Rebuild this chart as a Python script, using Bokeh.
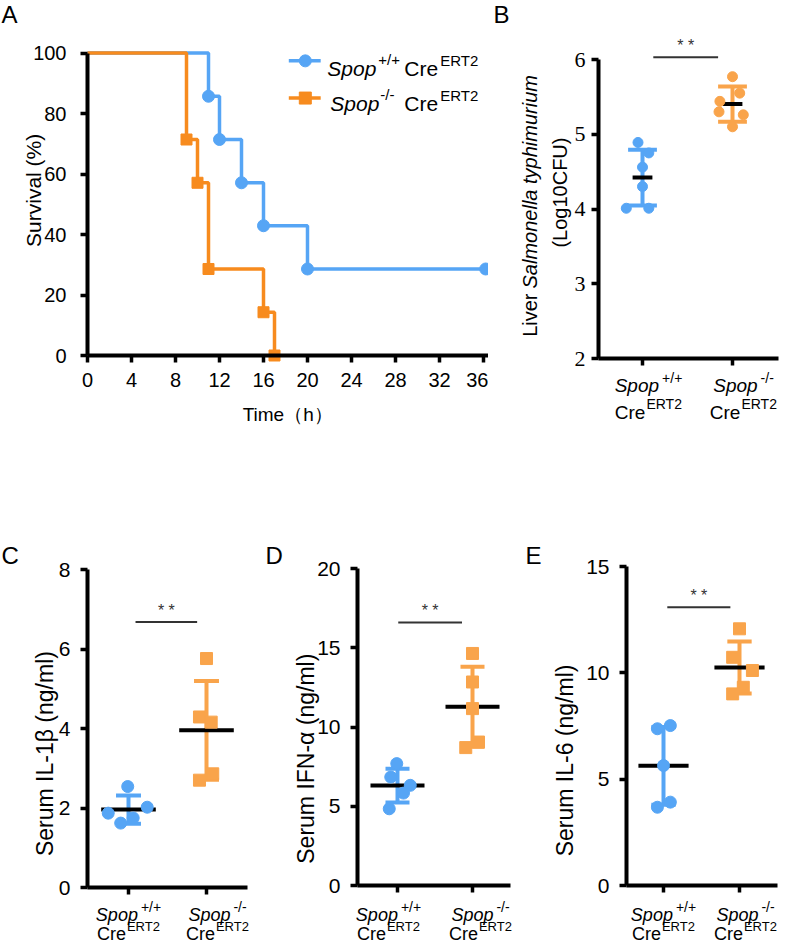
import math
import numpy as np
from bokeh.plotting import figure
from bokeh.models import Label, Range1d, FixedTicker
from bokeh.layouts import column, row
from bokeh.embed import file_html
from bokeh.resources import INLINE

# ---------------- data ----------------
# Panel A: Kaplan-Meier survival (time in h, survival in %)
time_ticks = [0, 4, 8, 12, 16, 20, 24, 28, 32, 36]
surv_ticks = [0, 20, 40, 60, 80, 100]
wt_time = [0, 11, 12, 14, 16, 20, 36.2]
wt_surv = [100, 85.7, 71.4, 57.1, 42.9, 28.6, 28.6]
ko_time = [0, 9, 10, 11, 16, 17]
ko_surv = [100, 71.4, 57.1, 28.6, 14.3, 0]

groups = [1, 2]
# Panel B: liver Salmonella typhimurium (Log10CFU)
liver_wt = [4.89, 4.75, 4.56, 4.30, 4.01, 4.01]
liver_ko = [5.77, 5.55, 5.44, 5.30, 5.26, 5.10]
liver_ticks = [2, 3, 4, 5, 6]
# Panel C: serum IL-1beta (ng/ml)
il1b_wt = [2.54, 2.02, 1.87, 1.75, 1.62]
il1b_ko = [5.76, 4.29, 4.16, 2.86, 2.70]
il1b_ticks = [0, 2, 4, 6, 8]
# Panel D: serum IFN-alpha (ng/ml)
ifna_wt = [7.69, 6.84, 6.32, 5.83, 4.84]
ifna_ko = [14.64, 12.84, 11.16, 9.05, 8.70]
ifna_ticks = [0, 5, 10, 15, 20]
# Panel E: serum IL-6 (ng/ml)
il6_wt = [7.52, 7.37, 5.64, 3.92, 3.68]
il6_ko = [12.07, 10.73, 10.11, 9.32, 9.01]
il6_ticks = [0, 5, 10, 15]

# horizontal scatter of the dots (category units)
jit_liver_wt = [-0.05, 0.07, 0.0, 0.0, -0.18, 0.07]
jit_liver_ko = [0.0, 0.08, -0.14, -0.15, 0.12, 0.0]
jit_il1b_wt = [-0.01, 0.24, -0.26, 0.06, -0.10]
jit_il1b_ko = [0.0, -0.09, 0.06, 0.08, -0.09]
jit_ifna_wt = [-0.01, -0.09, 0.17, 0.08, -0.11]
jit_ifna_ko = [0.0, 0.0, 0.0, 0.08, -0.09]
jit_il6_wt = [0.09, -0.08, 0.0, 0.09, -0.08]
jit_il6_ko = [0.0, -0.09, 0.17, 0.05, -0.09]

# significance bars: (y, x0, x1)
sig_liver = (6.03, 1.12, 1.84)
sig_il1b = (6.68, 1.09, 1.88)
sig_ifna = (16.6, 1.01, 1.86)
sig_il6 = (13.08, 1.05, 1.88)

BLUE = "#56a5f5"
ORANGE_A = "#f78b1e"
ORANGE = "#f9a44b"
FONT = "Liberation Sans"
SERIF = "Liberation Serif"


def lab(p, text, x, y, dx=0, dy=0, size=20, style="normal", align="left",
        base="alphabetic", angle=0, font=FONT, color="black"):
    p.add_layout(Label(x=x, y=y, x_offset=dx, y_offset=dy, text=text,
                       text_font=font, text_font_size=f"{size}px",
                       text_font_style=style, text_align=align,
                       text_baseline=base, angle=angle, text_color=color))


def make_panel(w, h, gx, xv, gy, yv):
    """Figure whose frame is the whole canvas; gx are the canvas pixels of
    the x values xv, gy the canvas pixels of the y values yv."""
    sx = (gx[1] - gx[0]) / (xv[1] - xv[0])
    sy = (gy[0] - gy[1]) / (yv[1] - yv[0])
    xr = Range1d(xv[0] - gx[0] / sx, xv[0] + (w - gx[0]) / sx)
    yr = Range1d(yv[0] - (h - gy[0]) / sy, yv[0] + gy[0] / sy)
    p = figure(width=w, height=h, x_range=xr, y_range=yr,
               output_backend="svg", toolbar_location=None, tools="",
               min_border=0)
    p.outline_line_color = None
    p.xgrid.visible = False
    p.ygrid.visible = False
    p.background_fill_color = "white"
    p.border_fill_color = "white"
    return p


def style_axes(p, xticks, yticks, xpos, ypos, xbounds, ybounds, size=20,
               font=FONT, xstand=10, ystand=10, hide_x=False):
    p.xaxis.ticker = FixedTicker(ticks=xticks)
    p.yaxis.ticker = FixedTicker(ticks=yticks)
    p.xaxis.fixed_location = ypos
    p.yaxis.fixed_location = xpos
    p.xaxis.bounds = xbounds
    p.yaxis.bounds = ybounds
    for ax in (p.xaxis[0], p.yaxis[0]):
        ax.axis_line_width = 4
        ax.axis_line_color = "black"
        ax.major_tick_line_width = 3.5
        ax.major_tick_line_color = "black"
        ax.major_tick_out = 7
        ax.major_tick_in = 0
        ax.minor_tick_line_color = None
        ax.major_label_text_font = font
        ax.major_label_text_font_size = f"{size}px"
        ax.major_label_text_color = "black"
    p.xaxis.major_label_standoff = xstand
    p.yaxis.major_label_standoff = ystand
    if hide_x:
        p.xaxis.major_label_text_color = None


def group_labels(p, y0, dy1, dy2, shifts, size=19, sup=14, sup2=14, raise2=9):
    genos = ["+/+", "-/-"]
    for gx, geno, sh in zip(groups, genos, shifts):
        spop_w = 2.335 * size
        sup_w = (1.446 if geno == "+/+" else 0.944) * sup
        left = sh - (spop_w + 3 + sup_w) / 2
        lab(p, "Spop", gx, y0, left, dy1, size=size, style="italic")
        lab(p, geno, gx, y0, left + spop_w + 3, dy1 + 8, size=sup)
        cre_w = 1.611 * size
        ert_w = 2.556 * sup2
        left2 = sh - (cre_w + 1 + ert_w) / 2
        lab(p, "Cre", gx, y0, left2, dy2, size=size)
        lab(p, "ERT2", gx, y0, left2 + cre_w + 1, dy2 + raise2, size=sup2)


def dot_panel(p, wt, ko, jw, jk, mean_hw, cap_hw, sizes, ko_marker, sig):
    for gx, vals, jit, col, mk, sz in [(1, wt, jw, BLUE, "circle", sizes[0]),
                                       (2, ko, jk, ORANGE, ko_marker, sizes[1])]:
        m = float(np.mean(vals))
        s = float(np.std(vals, ddof=1))
        p.segment([gx], [m - s], [gx], [m + s], line_color=col, line_width=4)
        p.segment([gx - cap_hw, gx - cap_hw], [m - s, m + s],
                  [gx + cap_hw, gx + cap_hw], [m - s, m + s],
                  line_color=col, line_width=4)
        p.segment([gx - mean_hw], [m], [gx + mean_hw], [m],
                  line_color="black", line_width=4)
        p.scatter([gx + j for j in jit], vals, marker=mk, size=sz,
                  fill_color=col, line_color=col)
    sy, sx0, sx1 = sig
    p.segment([sx0], [sy], [sx1], [sy], line_color="#333333", line_width=2)
    lab(p, "* *", (sx0 + sx1) / 2, sy, 0, 3, size=16, align="center",
        base="bottom", color="#333333")


def corner(p, text, dx, dy):
    lab(p, text, p.x_range.start, p.y_range.end, dx, dy, size=24, base="top")


# ---------------- Panel A ----------------
pA = make_panel(488, 530, (87, 483), (0, 36), (355, 52.5), (0, 100))
style_axes(pA, time_ticks, surv_ticks, 0, 0, (0, 36.6), (0, 100),
           size=20, xstand=10, ystand=14)
pA.step(wt_time, wt_surv, mode="after", line_color=BLUE, line_width=3.5)
pA.step(ko_time, ko_surv, mode="after", line_color=ORANGE_A, line_width=3.5)
pA.scatter(wt_time[1:], wt_surv[1:], marker="circle", size=12,
           fill_color=BLUE, line_color=BLUE)
pA.scatter(ko_time[1:], ko_surv[1:], marker="square", size=11,
           fill_color=ORANGE_A, line_color=ORANGE_A)
# legend keys
for yk, col, mk in [(97.4, BLUE, "circle"), (85.1, ORANGE_A, "square")]:
    pA.line([18.3, 21.2], [yk, yk], line_color=col, line_width=3.5)
    pA.scatter([19.8], [yk], marker=mk, size=12, fill_color=col, line_color=col)
for yb, geno, d0, dsup in [(95.0, "+/+", 0, 51), (83.4, "-/-", 3, 53)]:
    lab(pA, "Spop", 21.8, yb, d0, 0, size=21, style="italic")
    lab(pA, geno, 21.8, yb, dsup, 9, size=15)
    lab(pA, "Cre", 21.8, yb, 77, 0, size=21)
    lab(pA, "ERT2", 21.8, yb, 113, 8, size=15)
lab(pA, "Survival (%)", 0, 54.6, -54, 0, size=21, align="center",
    base="middle", angle=math.pi / 2)
lab(pA, "Time\uff08h\uff09", 18.2, 0, 0, -59, size=19, align="center")
corner(pA, "A", 1, 0)

# ---------------- Panel B ----------------
pB = make_panel(295, 530, (154, 244), (1, 2), (358, 59), (2, 6))
style_axes(pB, groups, liver_ticks, 0.511, 2, (0.511, 2.51), (2, 6),
           size=22, font=SERIF, ystand=6, hide_x=True)
dot_panel(pB, liver_wt, liver_ko, jit_liver_wt, jit_liver_ko, 0.11, 0.16,
          (10, 10), "circle", sig_liver)
group_labels(pB, 2, -27, -54, (6, 11))
lab(pB, "Liver", 0.511, 2.91, -68, -3, size=20, align="right", base="middle",
    angle=math.pi / 2)
lab(pB, "Salmonella typhimurium", 0.511, 2.91, -68, 2, size=20, style="italic",
    align="left", base="middle", angle=math.pi / 2)
lab(pB, "(Log10CFU)", 0.511, 4.22, -38, 0, size=20, align="center",
    base="middle", angle=math.pi / 2)
corner(pB, "B", 5, 0)

# ---------------- Panel C ----------------
pC = make_panel(257, 419, (128, 206), (1, 2), (357, 39), (0, 8))
style_axes(pC, groups, il1b_ticks, 0.474, 0, (0.474, 2.526), (0, 8),
           size=21, ystand=10, hide_x=True)
dot_panel(pC, il1b_wt, il1b_ko, jit_il1b_wt, jit_il1b_ko, 0.35, 0.16,
          (12, 12), "square", sig_il1b)
group_labels(pC, 0, -27, -46, (0, 11), size=18, sup=14, sup2=13, raise2=7)
lab(pC, "Serum IL-1\u03b2 (ng/ml)", 0.474, 3.37, -42, 0, size=23,
    align="center", base="middle", angle=math.pi / 2)
corner(pC, "C", 1, -11)

# ---------------- Panel D ----------------
pD = make_panel(257, 419, (140, 215), (1, 2), (355, 38), (0, 20))
style_axes(pD, groups, ifna_ticks, 0.467, 0, (0.467, 2.507), (0, 20),
           size=21, ystand=10, hide_x=True)
dot_panel(pD, ifna_wt, ifna_ko, jit_ifna_wt, jit_ifna_ko, 0.36, 0.16,
          (12, 12), "square", sig_ifna)
group_labels(pD, 0, -29, -48, (-9, 8), size=18, sup=14, sup2=13, raise2=7)
lab(pD, "Serum IFN-\u03b1 (ng/ml)", 0.467, 8.0, -52, 0, size=23,
    align="center", base="middle", angle=math.pi / 2)
corner(pD, "D", 8, -11)

# ---------------- Panel E ----------------
pE = make_panel(269, 419, (149, 225), (1, 2), (355, 36), (0, 15))
style_axes(pE, groups, il6_ticks, 0.513, 0, (0.513, 2.5), (0, 15),
           size=21, ystand=10, hide_x=True)
dot_panel(pE, il6_wt, il6_ko, jit_il6_wt, jit_il6_ko, 0.33, 0.16,
          (12, 12), "square", sig_il6)
group_labels(pE, 0, -29, -48, (0, 6), size=18, sup=14, sup2=13, raise2=7)
lab(pE, "Serum IL-6 (ng/ml)", 0.513, 5.88, -61, 0, size=23,
    align="center", base="middle", angle=math.pi / 2)
corner(pE, "E", 11, -11)

layout = column(row(pA, pB), row(pC, pD, pE))
open("out.html", "w").write(file_html(layout, INLINE))
